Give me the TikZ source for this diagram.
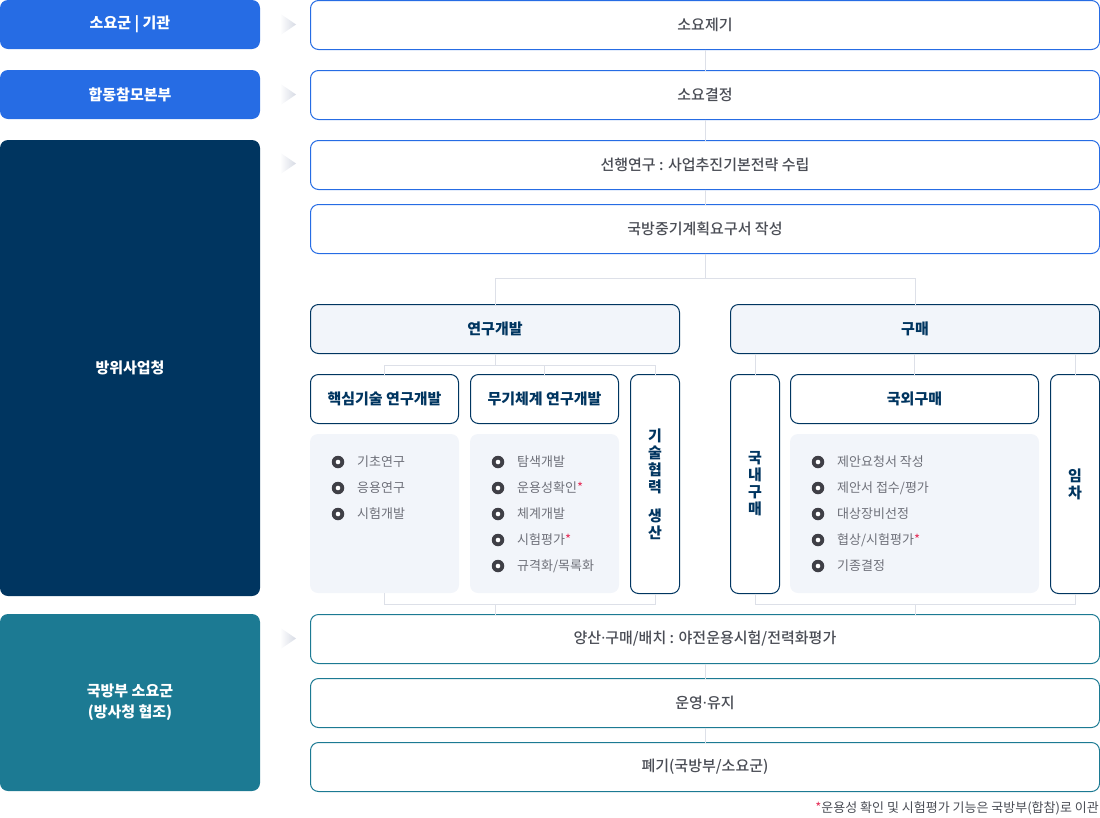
\documentclass[tikz,border=0pt]{standalone}
\usepackage{fontspec}
\setmainfont{Noto Sans CJK KR}
\newfontfamily\krmed{Noto Sans CJK KR Medium}
\newfontfamily\latinfont{Noto Sans}
\usetikzlibrary{calc}
\definecolor{cblue}{RGB}{38,108,228}
\definecolor{cnavy}{RGB}{0,53,96}
\definecolor{cteal}{RGB}{28,122,147}
\definecolor{cpanel}{RGB}{242,245,250}
\definecolor{cline}{RGB}{221,224,232}
\definecolor{ctext}{RGB}{74,77,85}
\definecolor{citem}{RGB}{110,112,121}
\definecolor{cbullet}{RGB}{63,63,70}
\definecolor{cred}{RGB}{229,48,90}
\definecolor{carrow}{RGB}{214,218,228}
\tikzset{
  base/.style={anchor=north west, inner sep=0pt, outer sep=0pt, rounded corners=8pt, align=center},
  lbox/.style={base, fill=#1, text=white, minimum width=260pt, font=\fontsize{15}{21}\selectfont\bfseries},
  rbox/.style={base, draw=#1, line width=1pt, fill=white, text=ctext, minimum width=789pt, minimum height=49pt, font=\fontsize{15}{17}\selectfont\krmed},
  nbox/.style={base, draw=cnavy, line width=1pt, fill=white, text=cnavy, minimum height=49pt, font=\fontsize{15}{17}\selectfont\bfseries},
  vbox/.style={base, draw=cnavy, line width=1pt, fill=white, text=cnavy, minimum width=49pt, minimum height=219pt, font=\fontsize{15}{17}\selectfont\bfseries},
  panel/.style={base, fill=cpanel, minimum height=159pt},
  conn/.style={draw=cline, line width=1pt},
  item/.style={anchor=west, inner sep=0pt, text=citem, font=\fontsize{13}{15}\selectfont},
  bul/.style={circle, fill=cbullet, minimum size=12.5pt, inner sep=0pt},
  arrowtri/.style={left color=white, right color=carrow, draw=none}
}
\newcommand{\redast}{\textcolor{cred}{*}}
\newcommand{\mdot}{{\latinfont ·}}
\begin{document}
\begin{tikzpicture}[x=1pt,y=-1pt]
\useasboundingbox (0,0) rectangle (1100,817);
% left column
\node[lbox=cblue, minimum height=49pt] (l1) at (0,0) {소요군 | 기관};
\node[lbox=cblue, minimum height=49pt] (l2) at (0,70) {합동참모본부};
\node[lbox=cnavy, minimum height=456pt] (l3) at (0,140) {방위사업청};
\node[lbox=cteal, minimum height=177pt] (l4) at (0,614) {국방부 소요군\\(방사청 협조)};
% small arrows
\foreach \yy [count=\i] in {24.5,94.5,163.5,638.5}{
  \shade[arrowtri] (280,\yy-11) -- (296,\yy) -- (280,\yy+11) -- cycle;
}
% main column
\node[rbox=cblue] (s1) at (310.5,0.5) {소요제기};
\node[rbox=cblue] (s2) at (310.5,70.5) {소요결정};
\node[rbox=cblue] (s3) at (310.5,140.5) {선행연구 : 사업추진기본전략 수립};
\node[rbox=cblue] (s4) at (310.5,204.5) {국방중기계획요구서 작성};
\draw[conn] (s1.south) -- (s2.north);
\draw[conn] (s2.south) -- (s3.north);
\draw[conn] (s3.south) -- (s4.north);
% branches
\node[nbox, fill=cpanel, minimum width=369pt] (rd) at (310.5,304.5) {연구개발};
\node[nbox, fill=cpanel, minimum width=369pt] (gm) at (730.5,304.5) {구매};
\draw[conn] (s4.south) -- ++(0,25) -| (rd.north);
\draw[conn] (s4.south) -- ++(0,25) -| (gm.north);
% research sub
\node[nbox, minimum width=148pt] (hk) at (310.5,374.5) {핵심기술 연구개발};
\node[nbox, minimum width=148pt] (wp) at (470.5,374.5) {무기체계 연구개발};
\node[vbox] (tc) at (630.5,374.5) {기\\술\\협\\력\\[12pt]생\\산};
\draw[conn] (rd.south) -- ++(0,12) coordinate (rdj) -| (hk.north);
\draw[conn] (rdj) -| (wp.north);
\draw[conn] (rdj) -| (tc.north);
\node[panel, minimum width=149pt] (p1) at (310,434) {};
\node[panel, minimum width=149pt] (p2) at (470,434) {};
% purchase sub
\node[vbox] (dn) at (730.5,374.5) {국\\내\\구\\매};
\node[nbox, minimum width=248pt] (fr) at (790.5,374.5) {국외구매};
\node[vbox] (rt) at (1050.5,374.5) {임\\차};
\draw[conn] (gm.south -| dn.north) -- (dn.north);
\draw[conn] (gm.south -| fr.north) -- (fr.north);
\draw[conn] (gm.south -| rt.north) -- (rt.north);
\node[panel, minimum width=249pt] (p3) at (790,434) {};
% list items
\foreach \t [count=\i] in {기초연구,응용연구,시험개발}{
  \node[bul] (ba\i) at (338,{436+26*\i}) {};
  \fill[white] (ba\i) circle (2.3pt);
  \node[item] (ia\i) at (357,{436+26*\i}) {\t};
}
\foreach \t [count=\i] in {탐색개발,운용성확인\redast,체계개발,시험평가\redast,규격화/목록화}{
  \node[bul] (bb\i) at (498,{436+26*\i}) {};
  \fill[white] (bb\i) circle (2.3pt);
  \node[item] (ib\i) at (517,{436+26*\i}) {\t};
}
\foreach \t [count=\i] in {제안요청서 작성,제안서 접수/평가,대상장비선정,협상/시험평가\redast,기종결정}{
  \node[bul] (bc\i) at (818,{436+26*\i}) {};
  \fill[white] (bc\i) circle (2.3pt);
  \node[item] (ic\i) at (837,{436+26*\i}) {\t};
}
% bottom column
\node[rbox=cteal] (b1) at (310.5,614.5) {양산\mdot 구매/배치 : 야전운용시험/전력화평가};
\node[rbox=cteal] (b2) at (310.5,678.5) {운영\mdot 유지};
\node[rbox=cteal] (b3) at (310.5,742.5) {폐기(국방부/소요군)};
\draw[conn] (p1.south) -- ++(0,11) coordinate (lj) -| (tc.south);
\draw[conn] (lj -| rd.south) -- (b1.north -| rd.south);
\draw[conn] (dn.south) -- ++(0,11) coordinate (rj) -| (rt.south);
\draw[conn] (rj -| gm.south) -- (b1.north -| gm.south);
\draw[conn] (b1.south) -- (b2.north);
\draw[conn] (b2.south) -- (b3.north);
% footnote
\node[anchor=east, inner sep=0pt, text=ctext, font=\fontsize{13}{15}\selectfont] (fn) at (1099,808) {\redast 운용성 확인 및 시험평가 기능은 국방부(합참)로 이관};
\end{tikzpicture}
\end{document}
